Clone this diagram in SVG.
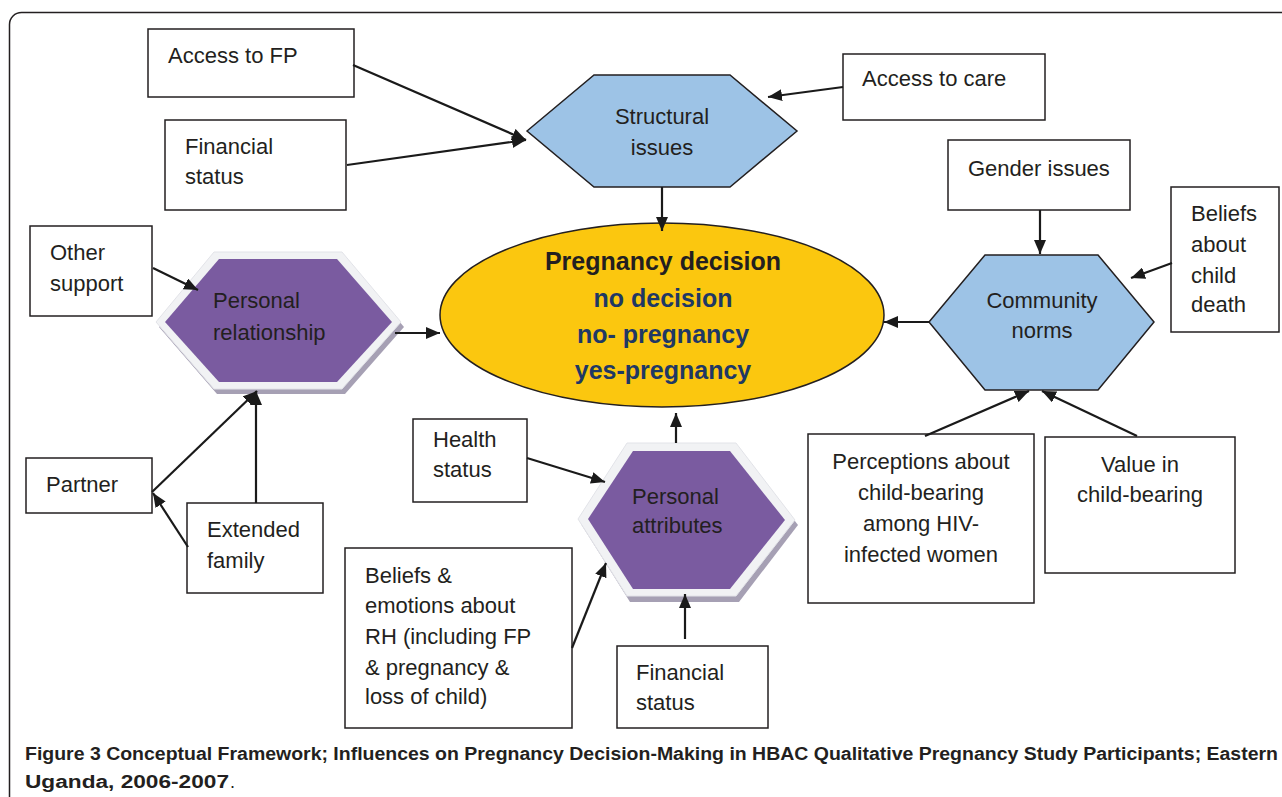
<svg xmlns="http://www.w3.org/2000/svg" width="1282" height="797" viewBox="0 0 1282 797">
<defs>
<marker id="ah" viewBox="0 0 14 12" refX="14" refY="6" markerWidth="14" markerHeight="12" markerUnits="userSpaceOnUse" orient="auto">
<path d="M0,0 L14,6 L0,12 z" fill="#1a1a1a"/>
</marker>
<style>
.box{fill:#fff;stroke:#231F20;stroke-width:1.5}
.t{font-family:"Liberation Sans",Arial,sans-serif;font-size:22px;fill:#231F20}
.c{text-anchor:middle}
.blue{fill:#9DC3E6;stroke:#231F20;stroke-width:1.5}
.purple{fill:#7A5BA0}
.frame{fill:#F1F2F4;stroke:#E2E3E8;stroke-width:1}
.shadow{fill:#A6A0B4}
.ln{stroke:#1a1a1a;stroke-width:2.2;fill:none;marker-end:url(#ah)}
.big{font-family:"Liberation Sans",Arial,sans-serif;font-size:25px;font-weight:bold;text-anchor:middle}
.cap{font-family:"Liberation Sans",Arial,sans-serif;font-size:18px;font-weight:bold;fill:#231F20}
</style>
</defs>
<rect width="1282" height="797" fill="#fff"/>
<rect x="9.5" y="12.5" width="1300" height="800" rx="12" fill="none" stroke="#231F20" stroke-width="1.5"/>

<g id="n-access-fp"><rect class="box" x="148" y="29" width="206" height="68"/><text class="t" x="168" y="63">Access to FP</text></g>
<g id="n-financial-top"><rect class="box" x="165" y="120" width="181" height="90"/><text class="t" x="185" y="154">Financial</text><text class="t" x="185" y="184">status</text></g>
<g id="n-access-care"><rect class="box" x="843" y="54" width="202" height="66"/><text class="t" x="862" y="86">Access to care</text></g>
<g id="n-gender"><rect class="box" x="948" y="140" width="182" height="70"/><text class="t" x="968" y="176">Gender issues</text></g>
<g id="n-beliefs-death"><rect class="box" x="1171" y="187" width="108" height="145"/><text class="t" x="1191" y="221">Beliefs</text><text class="t" x="1191" y="252">about</text><text class="t" x="1191" y="283">child</text><text class="t" x="1191" y="312">death</text></g>
<g id="n-other-support"><rect class="box" x="30" y="226" width="122" height="90"/><text class="t" x="50" y="260">Other</text><text class="t" x="50" y="291">support</text></g>
<g id="n-partner"><rect class="box" x="26" y="458" width="126" height="55"/><text class="t" x="46" y="492">Partner</text></g>
<g id="n-extended"><rect class="box" x="187" y="503" width="136" height="90"/><text class="t" x="207" y="537">Extended</text><text class="t" x="207" y="568">family</text></g>
<g id="n-health"><rect class="box" x="413" y="419" width="114" height="83"/><text class="t" x="433" y="447">Health</text><text class="t" x="433" y="477">status</text></g>
<g id="n-beliefs-rh"><rect class="box" x="345" y="548" width="227" height="180"/><text class="t" x="365" y="583">Beliefs &amp;</text><text class="t" x="365" y="613">emotions about</text><text class="t" x="365" y="644">RH (including FP</text><text class="t" x="365" y="675">&amp; pregnancy &amp;</text><text class="t" x="365" y="704">loss of child)</text></g>
<g id="n-financial-bottom"><rect class="box" x="617" y="646" width="151" height="82"/><text class="t" x="636" y="680">Financial</text><text class="t" x="636" y="710">status</text></g>
<g id="n-perceptions"><rect class="box" x="808" y="434" width="226" height="169"/><text class="t c" x="921" y="469">Perceptions about</text><text class="t c" x="921" y="500">child-bearing</text><text class="t c" x="921" y="531">among HIV-</text><text class="t c" x="921" y="562">infected women</text></g>
<g id="n-value"><rect class="box" x="1045" y="437" width="190" height="136"/><text class="t c" x="1140" y="472">Value in</text><text class="t c" x="1140" y="502">child-bearing</text></g>

<g id="n-structural"><polygon class="blue" points="527,131 594,75 730,75 797,131 730,187 594,187"/><text class="t c" x="662" y="124">Structural</text><text class="t c" x="662" y="155">issues</text></g>
<g id="n-community"><polygon class="blue" points="929,322 985,255 1098,255 1154,322 1098,390 985,390"/><text class="t c" x="1042" y="308">Community</text><text class="t c" x="1042" y="338">norms</text></g>

<g id="n-relationship">
<polygon class="shadow" points="159,327 217,257 345,257 404,327 345,394 217,394"/>
<polygon class="frame" points="156,322 214,252 342,252 401,322 342,389 214,389"/>
<polygon class="purple" points="165,322 219,259 337,259 392,322 337,382 219,382"/>
<text class="t" x="213" y="308">Personal</text><text class="t" x="213" y="340">relationship</text>
</g>
<g id="n-attributes">
<polygon class="shadow" points="581,524 630,448 739,448 798,525 739,602 630,602"/>
<polygon class="frame" points="578,519 627,443 736,443 795,520 736,596 627,596"/>
<polygon class="purple" points="588,519 633,451 730,451 785,520 730,589 633,589"/>
<text class="t" x="632" y="504">Personal</text><text class="t" x="632" y="533">attributes</text>
</g>

<g id="n-decision">
<ellipse cx="662" cy="315" rx="222" ry="92" fill="#FBC70F" stroke="#231F20" stroke-width="1.5"/>
<text class="big" x="663" y="270" fill="#231F20">Pregnancy decision</text>
<text class="big" x="663" y="307" fill="#1F3864">no decision</text>
<text class="big" x="663" y="343" fill="#1F3864">no- pregnancy</text>
<text class="big" x="663" y="379" fill="#1F3864">yes-pregnancy</text>
</g>

<g id="connectors">
<line class="ln" x1="353" y1="65" x2="526" y2="140"/>
<line class="ln" x1="347" y1="165" x2="526" y2="140"/>
<line class="ln" x1="843" y1="87" x2="768" y2="97"/>
<line class="ln" x1="662" y1="187" x2="662" y2="231"/>
<line class="ln" x1="1040" y1="210" x2="1040" y2="254"/>
<line class="ln" x1="1172" y1="263" x2="1131" y2="278"/>
<line class="ln" x1="929" y1="322" x2="884" y2="322"/>
<line class="ln" x1="925" y1="436" x2="1029" y2="391"/>
<line class="ln" x1="1137" y1="436" x2="1042" y2="391"/>
<line class="ln" x1="153" y1="268" x2="198" y2="290"/>
<line class="ln" x1="395" y1="333" x2="440" y2="333"/>
<line class="ln" x1="152" y1="492" x2="257" y2="391"/>
<line class="ln" x1="256" y1="503" x2="256" y2="391"/>
<line class="ln" x1="188" y1="547" x2="153" y2="493"/>
<line class="ln" x1="527" y1="458" x2="605" y2="482"/>
<line class="ln" x1="572" y1="648" x2="606" y2="563"/>
<line class="ln" x1="685" y1="639" x2="685" y2="594"/>
<line class="ln" x1="676" y1="443" x2="676" y2="413"/>
</g>

<g id="caption">
<text class="cap" x="25" y="760" textLength="1253" lengthAdjust="spacingAndGlyphs">Figure 3 Conceptual Framework; Influences on Pregnancy Decision-Making in HBAC Qualitative Pregnancy Study Participants; Eastern</text>
<text class="cap" x="25" y="788" textLength="204" lengthAdjust="spacingAndGlyphs">Uganda, 2006-2007</text>
<text class="cap" x="230" y="788" style="font-weight:normal">.</text>
</g>
</svg>
